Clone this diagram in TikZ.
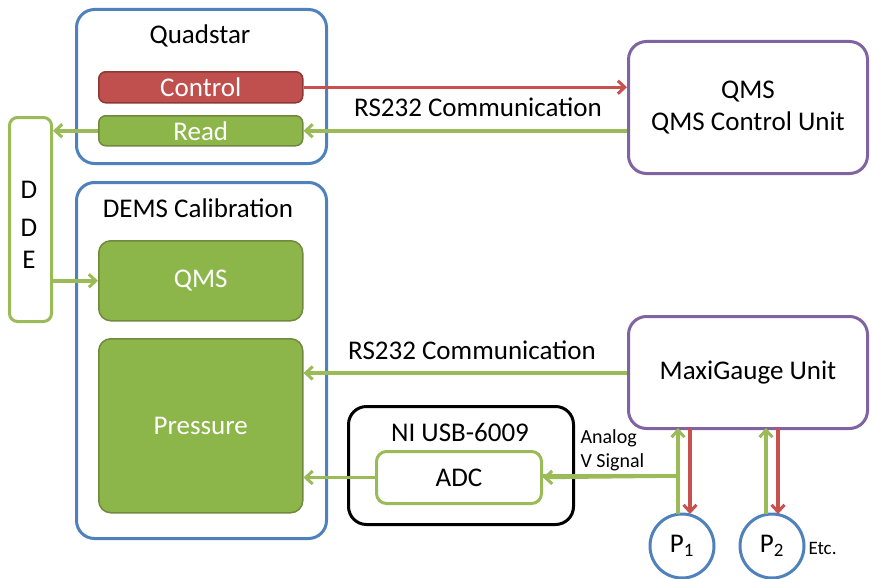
\documentclass[tikz,border=0pt]{standalone}
\usepackage{fontspec}
\setmainfont{Carlito}
\usetikzlibrary{arrows.meta}
\definecolor{myblue}{HTML}{4F81BD}
\definecolor{mypurple}{HTML}{8064A2}
\definecolor{mygreen}{HTML}{8CB54A}
\definecolor{mygreendk}{HTML}{71893F}
\definecolor{myred}{HTML}{C0504D}
\definecolor{myreddk}{HTML}{8C3836}
\definecolor{arrgreen}{HTML}{9BBB59}
\definecolor{arrred}{HTML}{C8504D}
\begin{document}
\begin{tikzpicture}[x=1pt,y=-1pt,
  outer/.style={draw=myblue,line width=3pt,rounded corners=18pt},
  purplebox/.style={draw=mypurple,line width=3pt,rounded corners=18pt,fill=white},
  greenfill/.style={draw=mygreendk,fill=mygreen,line width=1.5pt,rounded corners=12pt,text=white},
  redfill/.style={draw=myreddk,fill=myred,line width=1.5pt,rounded corners=7pt,text=white},
  greenout/.style={draw=arrgreen,fill=white,line width=3pt,rounded corners=10pt},
  blackbox/.style={draw=black,line width=3pt,rounded corners=18pt},
  circ/.style={draw=myblue,line width=3pt,circle,minimum size=64pt,inner sep=0pt},
  garr/.style={draw=arrgreen,line width=3.5pt,-{Straight Barb[length=7pt,width=13pt,line width=3pt]}},
  rarr/.style={draw=arrred,line width=3.5pt,-{Straight Barb[length=7pt,width=13pt,line width=3pt]}},
  gline/.style={draw=arrgreen,line width=3.5pt},
  lbl/.style={font=\fontsize{27}{30}\selectfont},
  every node/.style={font=\fontsize{27}{30}\selectfont}]
\useasboundingbox (0,0) rectangle (872,578);
% boxes
\node[outer,minimum width=250pt,minimum height=154pt,anchor=north west] (quad) at (75,8) {};
\node at (200,36) (quadt) {Quadstar};
\node[redfill,minimum width=204pt,minimum height=31pt,anchor=north west,inner sep=0pt] (ctrl) at (98,71) {Control};
\node[greenfill,rounded corners=7pt,minimum width=204pt,minimum height=30pt,anchor=north west,inner sep=0pt] (read) at (98,115) {Read};
\node[greenout,rounded corners=8pt,minimum width=42pt,minimum height=204pt,anchor=north west] (dde) at (8,116) {};
\node at (29,190) (d1) {D};
\node at (29,228) (d2) {D};
\node at (29,260) (e1) {E};
\node[outer,minimum width=250pt,minimum height=356pt,anchor=north west] (dems) at (75,181) {};
\node at (198,208) (demst) {DEMS Calibration};
\node[greenfill,minimum width=204pt,minimum height=80pt,anchor=north west] (qms) at (98,240) {QMS};
\node[greenfill,minimum width=204pt,minimum height=174pt,anchor=north west] (press) at (98,338) {Pressure};
\node[blackbox,minimum width=225pt,minimum height=118pt,anchor=north west] (ni) at (347,405) {};
\node at (460,432) (nit) {NI USB-6009};
\node[greenout,minimum width=165pt,minimum height=52pt,anchor=north west] (adc) at (375,450) {ADC};
\node[purplebox,minimum width=239pt,minimum height=132pt,anchor=north west,align=center] (qcu) at (627,40) {QMS\\[2pt]QMS Control Unit};
\node[purplebox,minimum width=239pt,minimum height=112pt,anchor=north west] (maxi) at (627,315) {MaxiGauge Unit};
\node[circ] (p1) at (682,546) {P\textsubscript{1}};
\node[circ] (p2) at (772,546) {P\textsubscript{2}};
\node[anchor=west,font=\fontsize{19}{22}\selectfont] (etc) at (805,548) {Etc.};
% connectors
\draw[rarr] (ctrl.east) -- (ctrl.east -| qcu.west);
\node[lbl] (rs1) at (478,107) {RS232 Communication};
\draw[garr] (read.east -| qcu.west) -- (read.east);
\draw[garr] (read.west) -- (read.west -| dde.east);
\draw[garr] (qms.west -| dde.east) -- (qms.west);
\draw[garr] (maxi.west |- 0,373) -- (press.east |- 0,373);
\node[lbl] (rs2) at (472,350) {RS232 Communication};
\draw[garr] (adc.west) -- (adc.west -| press.east);
\coordinate (tap) at (678,476);
\draw[gline] (tap) -- (678,476 -| adc.east);
\draw[garr] (tap) -- (adc.east);
\node[anchor=west,align=left,font=\fontsize{20}{24}\selectfont] (analog) at (577,450) {Analog\\V Signal};
\draw[garr] (678,514) -- (678,428);
\draw[rarr] (690,428) -- (690,514);
\draw[garr] (766,514) -- (766,428);
\draw[rarr] (778,428) -- (778,514);
\end{tikzpicture}
\end{document}
